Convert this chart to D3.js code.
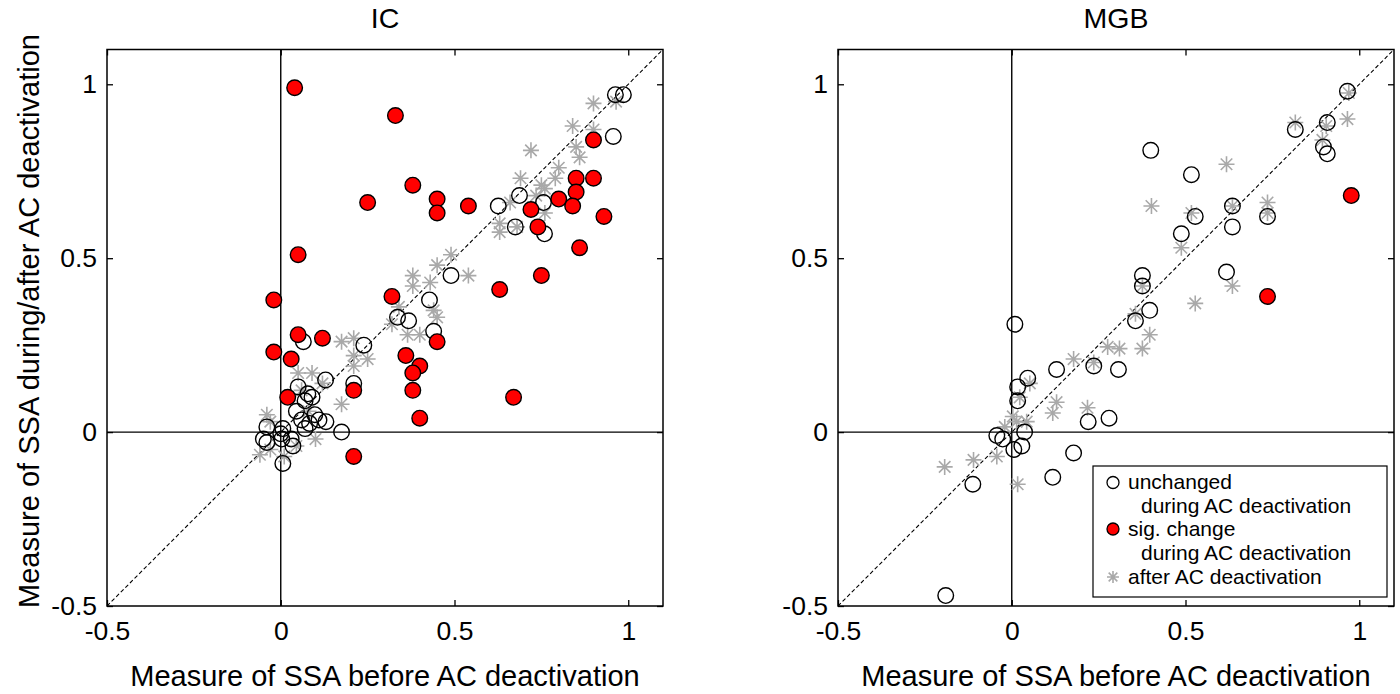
<!DOCTYPE html>
<html>
<head>
<meta charset="utf-8">
<script src="https://cdn.jsdelivr.net/npm/d3@7/dist/d3.min.js"></script>
<style>
  html, body { margin: 0; padding: 0; background: #fff; }
  svg text { font-family: Arial, "Liberation Sans", sans-serif; fill: #000; }
</style>
</head>
<body>
<svg id="chart" width="1400" height="694"></svg>
<script>
// ---------------- DATA ----------------
const axisDomain = [-0.5, 1.1];
const tickValues = [-0.5, 0, 0.5, 1];
const tickLabels = ["-0.5", "0", "0.5", "1"];
const panelTitles = ["IC", "MGB"];
const xAxisLabel = "Measure of SSA before AC deactivation";
const yAxisLabel = "Measure of SSA during/after AC deactivation";
const legendLabels = [["unchanged", "during AC deactivation"], ["sig. change", "during AC deactivation"], ["after AC deactivation"]];

// IC panel
const icUnchanged = [
  [0.963,0.97],[0.986,0.97],[0.957,0.85],[0.756,0.66],[0.687,0.68],[0.626,0.65],[0.675,0.59],[0.759,0.57],
  [0.49,0.45],[0.428,0.38],[0.336,0.33],[0.368,0.32],[0.44,0.29],[0.239,0.25],[0.21,0.14],[0.175,0.0],
  [0.129,0.15],[0.006,-0.09],[0.05,0.13],[0.078,0.11],[0.09,0.10],[0.07,0.09],[0.045,0.06],[0.098,0.05],
  [0.11,0.035],[0.06,0.035],[0.083,0.025],[0.13,0.03],[0.07,0.01],[-0.04,0.015],[0.006,0.01],[-0.05,-0.02],
  [0.0,-0.005],[0.03,-0.02],[-0.04,-0.03],[0.003,-0.02],[0.035,-0.04],[0.065,0.26]
];
const icChanged = [
  [0.04,0.99],[0.33,0.91],[0.38,0.71],[0.25,0.66],[0.45,0.67],[0.45,0.63],[0.54,0.65],[0.05,0.51],
  [0.90,0.84],[0.85,0.73],[0.90,0.73],[0.85,0.69],[0.80,0.67],[0.84,0.65],[0.72,0.64],[0.74,0.59],
  [0.93,0.62],[0.86,0.53],[0.75,0.45],[0.63,0.41],[0.67,0.10],[0.32,0.39],[0.45,0.26],[0.36,0.22],
  [0.40,0.19],[0.38,0.17],[0.38,0.12],[0.40,0.04],[0.21,0.12],[-0.02,0.38],[0.05,0.28],[0.12,0.27],
  [-0.02,0.23],[0.03,0.21],[0.02,0.10],[0.21,-0.07]
];
const icAfter = [
  [0.90,0.945],[0.965,0.95],[0.84,0.88],[0.90,0.87],[0.72,0.81],[0.85,0.82],[0.86,0.79],[0.80,0.76],
  [0.79,0.73],[0.69,0.73],[0.75,0.71],[0.76,0.70],[0.735,0.68],[0.66,0.66],[0.76,0.63],[0.63,0.60],
  [0.63,0.575],[0.68,0.59],[0.54,0.45],[0.49,0.51],[0.45,0.48],[0.38,0.45],[0.38,0.42],[0.43,0.43],
  [0.34,0.36],[0.44,0.35],[0.45,0.33],[0.32,0.31],[0.365,0.28],[0.40,0.28],[0.175,0.26],[0.21,0.27],
  [0.21,0.22],[0.25,0.21],[0.21,0.19],[0.175,0.08],[0.05,0.17],[0.09,0.17],[0.12,0.14],[-0.04,0.05],
  [-0.03,0.03],[0.10,-0.02],[-0.03,-0.05],[0.01,-0.07],[-0.06,-0.065],[0.045,-0.04],[0.06,0.12],[0.08,0.06]
];

// MGB panel
const mgbUnchanged = [
  [0.966,0.98],[0.908,0.89],[0.816,0.87],[0.897,0.82],[0.908,0.80],[0.40,0.81],[0.517,0.74],[0.635,0.65],
  [0.528,0.62],[0.736,0.62],[0.635,0.59],[0.488,0.57],[0.618,0.46],[0.376,0.45],[0.376,0.42],[0.397,0.35],
  [0.356,0.32],[0.009,0.31],[0.129,0.18],[0.236,0.19],[0.307,0.18],[0.046,0.155],[0.017,0.13],[0.017,0.09],
  [0.22,0.03],[0.28,0.04],[0.037,0.0],[-0.043,-0.01],[-0.026,-0.02],[0.029,-0.04],[0.006,-0.05],[0.178,-0.06],
  [0.118,-0.13],[-0.112,-0.15],[-0.19,-0.47]
];
const mgbChanged = [[0.977,0.68],[0.736,0.39]];
const mgbAfter = [
  [0.97,0.975],[0.966,0.90],[0.816,0.89],[0.905,0.88],[0.894,0.84],[0.618,0.77],[0.402,0.65],[0.517,0.63],
  [0.635,0.65],[0.736,0.66],[0.736,0.63],[0.488,0.53],[0.635,0.42],[0.528,0.37],[0.376,0.42],[0.356,0.34],
  [0.397,0.28],[0.376,0.24],[0.31,0.24],[0.276,0.245],[0.178,0.21],[0.236,0.20],[0.052,0.14],[0.023,0.10],
  [0.129,0.086],[0.118,0.055],[0.218,0.07],[0.003,0.045],[0.014,0.03],[-0.02,0.015],[0.043,0.03],
  [-0.043,-0.07],[-0.11,-0.08],[-0.193,-0.10],[0.017,-0.15]
];

// ---------------- DRAW ----------------
const svg = d3.select("#chart");
const panels = [
  { left: 107, right: 663, title: panelTitles[0], unchanged: icUnchanged, changed: icChanged, after: icAfter, legend: false },
  { left: 838, right: 1394, title: panelTitles[1], unchanged: mgbUnchanged, changed: mgbChanged, after: mgbAfter, legend: true }
];
const plotTop = 49.5, plotBottom = 606;
const R = 7.8;
const grey = "#a9a9a9";

function asterisk(sel, s) {
  const d = s * 0.72;
  const path = `M${-s},0L${s},0M0,${-s}L0,${s}M${-d},${-d}L${d},${d}M${-d},${d}L${d},${-d}`;
  sel.append("path").attr("d", path).attr("stroke", grey).attr("stroke-width", 1.6).attr("fill", "none");
}

panels.forEach(p => {
  const x = d3.scaleLinear().domain(axisDomain).range([p.left, p.right]);
  const y = d3.scaleLinear().domain(axisDomain).range([plotBottom, plotTop]);
  const g = svg.append("g");

  const cid = "clip" + p.left;
  svg.append("clipPath").attr("id", cid).append("rect")
    .attr("x", p.left).attr("y", plotTop).attr("width", p.right - p.left).attr("height", plotBottom - plotTop);
  const plot = g.append("g").attr("clip-path", `url(#${cid})`);

  // zero lines
  plot.append("line").attr("x1", x(0)).attr("x2", x(0)).attr("y1", plotTop).attr("y2", plotBottom)
    .attr("stroke", "#000").attr("stroke-width", 1.4);
  plot.append("line").attr("x1", p.left).attr("x2", p.right).attr("y1", y(0)).attr("y2", y(0))
    .attr("stroke", "#000").attr("stroke-width", 1.4);
  // identity line
  plot.append("line").attr("x1", x(axisDomain[0])).attr("y1", y(axisDomain[0]))
    .attr("x2", x(axisDomain[1])).attr("y2", y(axisDomain[1]))
    .attr("stroke", "#000").attr("stroke-width", 1.1).attr("stroke-dasharray", "4,2.5");

  // after (asterisks)
  plot.selectAll("g.ast").data(p.after).join("g").attr("class", "ast")
    .attr("transform", d => `translate(${x(d[0])},${y(d[1])})`)
    .each(function () { asterisk(d3.select(this), 8); });
  // unchanged
  plot.selectAll("circle.unch").data(p.unchanged).join("circle").attr("class", "unch")
    .attr("cx", d => x(d[0])).attr("cy", d => y(d[1])).attr("r", R)
    .attr("fill", "none").attr("stroke", "#000").attr("stroke-width", 1.4);
  // changed
  plot.selectAll("circle.chg").data(p.changed).join("circle").attr("class", "chg")
    .attr("cx", d => x(d[0])).attr("cy", d => y(d[1])).attr("r", R)
    .attr("fill", "#ff0000").attr("stroke", "#000").attr("stroke-width", 1.4);

  // axes
  const fmt = d => tickLabels[tickValues.indexOf(d)];
  const ax = g.append("g").attr("transform", `translate(0,${plotBottom})`)
    .call(d3.axisBottom(x).tickValues(tickValues).tickFormat(fmt).tickSize(-6).tickPadding(15.5));
  const ay = g.append("g").attr("transform", `translate(${p.left},0)`)
    .call(d3.axisLeft(y).tickValues(tickValues).tickFormat(fmt).tickSize(-6).tickPadding(10));
  const at = g.append("g").attr("transform", `translate(0,${plotTop})`)
    .call(d3.axisTop(x).tickValues(tickValues).tickFormat("").tickSize(-6));
  const ar = g.append("g").attr("transform", `translate(${p.right},0)`)
    .call(d3.axisRight(y).tickValues(tickValues).tickFormat("").tickSize(-6));
  [ax, ay, at, ar].forEach(a => {
    a.select(".domain").remove();
    a.selectAll(".tick line").attr("stroke", "#000").attr("stroke-width", 1.3);
    a.selectAll(".tick text").attr("font-size", 26.5).attr("fill", "#000")
      .style("font-family", "Arial, 'Liberation Sans', sans-serif");
  });

  // box
  g.append("rect").attr("x", p.left).attr("y", plotTop).attr("width", p.right - p.left).attr("height", plotBottom - plotTop)
    .attr("fill", "none").attr("stroke", "#000").attr("stroke-width", 1.5);

  const cx = (p.left + p.right) / 2;
  g.append("text").attr("x", cx).attr("y", 28).attr("text-anchor", "middle").attr("font-size", 28.5).text(p.title);
  g.append("text").attr("x", cx).attr("y", 686).attr("text-anchor", "middle").attr("font-size", 29).text(xAxisLabel);

  if (p.legend) {
    const lx = 1093, ly = 466, lw = 294, lh = 131;
    const lg = g.append("g");
    lg.append("rect").attr("x", lx).attr("y", ly).attr("width", lw).attr("height", lh)
      .attr("fill", "#fff").attr("stroke", "#000").attr("stroke-width", 1.2);
    const mx = 1113, tx = 1128, tx2 = 1141, fs = 21;
    const base = [489, 512.5, 536, 559.5, 583.5];
    // row 1
    lg.append("circle").attr("cx", mx).attr("cy", base[0] - 6.5).attr("r", 6).attr("fill", "none").attr("stroke", "#000").attr("stroke-width", 1.3);
    lg.append("text").attr("x", tx).attr("y", base[0]).attr("font-size", fs).text(legendLabels[0][0]);
    lg.append("text").attr("x", tx2).attr("y", base[1]).attr("font-size", fs).text(legendLabels[0][1]);
    // row 2
    lg.append("circle").attr("cx", mx).attr("cy", base[2] - 7).attr("r", 6).attr("fill", "#ff0000").attr("stroke", "#000").attr("stroke-width", 1.3);
    lg.append("text").attr("x", tx).attr("y", base[2]).attr("font-size", fs).text(legendLabels[1][0]);
    lg.append("text").attr("x", tx2).attr("y", base[3]).attr("font-size", fs).text(legendLabels[1][1]);
    // row 3
    const a = lg.append("g").attr("transform", `translate(${mx},${base[4] - 6.5})`);
    asterisk(a, 6);
    lg.append("text").attr("x", tx).attr("y", base[4]).attr("font-size", fs).text(legendLabels[2][0]);
  }
});

svg.append("text").attr("transform", `translate(39,${321}) rotate(-90)`).attr("text-anchor", "middle")
  .attr("font-size", 29).text(yAxisLabel);
</script>
</body>
</html>
